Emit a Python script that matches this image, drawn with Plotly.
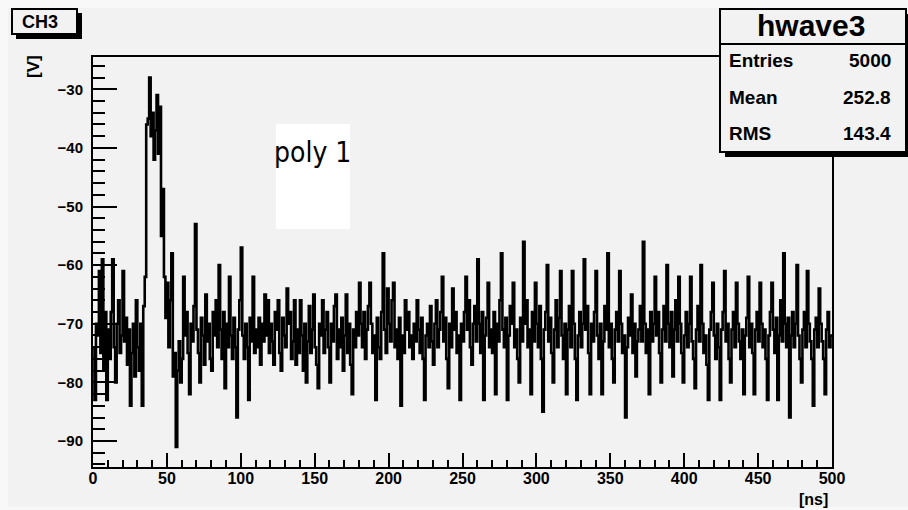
import numpy as np
import plotly.graph_objects as go

# ---------------- data (one value per 1 ns bin, 0..500 ns) ----------------
voltage = [
    -74, -83, -70, -72, -61, -75, -59, -78, -68, -83,
    -71, -76, -68, -59, -74, -80, -70, -66, -75, -72,
    -61, -73, -69, -77, -71, -84, -75, -70, -79, -66,
    -74, -78, -70, -84, -67, -62, -36, -35, -28, -38,
    -34, -42, -37, -31, -41, -33, -55, -47, -62, -69,
    -63, -74, -66, -58, -79, -75, -91, -78, -73, -80,
    -76, -62, -72, -68, -75, -82, -70, -73, -67, -53,
    -71, -75, -80, -69, -72, -77, -65, -73, -70, -76,
    -78, -68, -72, -66, -74, -60, -71, -76, -68, -81,
    -70, -74, -62, -72, -76, -69, -74, -86, -71, -66,
    -57, -72, -76, -70, -74, -83, -69, -73, -62, -75,
    -71, -74, -69, -77, -70, -73, -65, -72, -66, -75,
    -70, -73, -77, -68, -71, -66, -75, -78, -69, -72,
    -74, -64, -70, -68, -76, -73, -66, -77, -71, -75,
    -66, -72, -78, -70, -80, -73, -67, -75, -71, -65,
    -74, -77, -81, -70, -72, -66, -75, -71, -68, -74,
    -80, -70, -73, -67, -65, -76, -71, -74, -69, -78,
    -72, -65, -75, -70, -77, -82, -71, -74, -68, -72,
    -63, -70, -74, -68, -76, -71, -67, -63, -70, -75,
    -72, -83, -69, -74, -76, -68, -58, -71, -75, -64,
    -70, -73, -66, -63, -74, -71, -76, -69, -84, -72,
    -75, -66, -71, -68, -74, -72, -76, -70, -73, -66,
    -71, -75, -69, -76, -83, -72, -70, -74, -67, -73,
    -77, -70, -66, -74, -71, -68, -62, -73, -69, -76,
    -81, -70, -74, -64, -71, -68, -75, -72, -83, -70,
    -73, -68, -62, -71, -66, -74, -77, -70, -67, -73,
    -59, -70, -75, -68, -83, -72, -69, -63, -74, -71,
    -75, -68, -82, -70, -73, -66, -58, -71, -74, -69,
    -83, -72, -67, -70, -63, -74, -71, -76, -80, -69,
    -73, -56, -70, -66, -74, -71, -82, -68, -73, -63,
    -70, -74, -67, -76, -85, -71, -68, -60, -73, -69,
    -75, -80, -71, -66, -74, -69, -61, -72, -76, -70,
    -82, -71, -67, -74, -61, -70, -76, -83, -72, -68,
    -74, -70, -59, -71, -67, -75, -82, -70, -73, -68,
    -61, -72, -76, -70, -82, -73, -67, -71, -58, -74,
    -70, -76, -80, -71, -68, -73, -61, -70, -75, -72,
    -86, -74, -69, -72, -65, -75, -70, -79, -73, -71,
    -67, -73, -56, -70, -75, -71, -82, -68, -73, -70,
    -62, -72, -68, -75, -80, -71, -67, -73, -60, -70,
    -74, -68, -79, -71, -66, -73, -62, -70, -75, -80,
    -72, -68, -74, -70, -62, -73, -76, -81, -71, -67,
    -73, -60, -70, -75, -72, -77, -83, -71, -68, -63,
    -72, -76, -70, -74, -83, -71, -68, -61, -73, -70,
    -76, -80, -71, -68, -74, -63, -70, -73, -76, -71,
    -82, -72, -69, -62, -74, -70, -75, -82, -71, -68,
    -73, -63, -70, -74, -71, -76, -83, -72, -68, -63,
    -71, -75, -69, -83, -72, -66, -73, -58, -70, -74,
    -69, -86, -72, -68, -74, -70, -60, -72, -76, -80,
    -71, -68, -74, -61, -70, -73, -76, -84, -71, -69,
    -74, -64, -70, -73, -76, -82, -71, -68, -74, -72,
]
x_tick_values = [0, 50, 100, 150, 200, 250, 300, 350, 400, 450, 500]
y_tick_values = [-90, -80, -70, -60, -50, -40, -30]
title_text = "CH3"
hist_name = "hwave3"
stats_labels = ["Entries", "Mean", "RMS"]
stats_values = ["5000", "252.8", "143.4"]
x_unit = "[ns]"
y_unit = "[V]"
note_text = "poly 1"

# ---------------- layout geometry (pixels) ----------------
W, H = 908, 510
L, R, T, B = 93, 832, 57, 467


def px(x):
    return (x - L) / (R - L)


def py(y):
    return (B - y) / (B - T)


edges = np.arange(len(voltage) + 1)
yvals = voltage + [voltage[-1]]

fig = go.Figure()
fig.add_trace(go.Scatter(
    x=edges, y=yvals, mode="lines",
    line=dict(color="black", width=2.6, shape="hv"),
    hoverinfo="skip", showlegend=False,
))

bold = "Liberation Sans, Arial, Helvetica, sans-serif"
tick_font_x = dict(family=bold, size=16, color="black", weight="bold")
tick_font_y = dict(family=bold, size=15, color="black", weight="bold")

fig.update_xaxes(
    range=[0, 500], tickvals=x_tick_values, ticks="inside", ticklen=14,
    tickwidth=2, tickcolor="black", showline=True, linecolor="black",
    linewidth=2, mirror=True, showgrid=False, zeroline=False,
    tickfont=tick_font_x, ticklabelstandoff=-4,
    minor=dict(dtick=10, ticks="inside", ticklen=7, tickwidth=2,
               tickcolor="black", showgrid=False),
)
fig.update_yaxes(
    range=[-94.44, -24.49], tickvals=y_tick_values, ticks="inside",
    ticklen=24, tickwidth=2, tickcolor="black", showline=True,
    linecolor="black", linewidth=2, mirror=True, showgrid=False,
    zeroline=False, tickfont=tick_font_y, ticklabelstandoff=5,
    minor=dict(dtick=2, ticks="inside", ticklen=12, tickwidth=2,
               tickcolor="black", showgrid=False),
)

shapes = []
# canvas
shapes.append(dict(type="rect", xref="paper", yref="paper", layer="below",
                   x0=px(8), x1=px(908), y0=py(507), y1=py(8),
                   line=dict(width=0), fillcolor="#f2f2f2"))
# white box behind "poly 1"
shapes.append(dict(type="rect", xref="paper", yref="paper", layer="above",
                   x0=px(276), x1=px(350), y0=py(229), y1=py(124),
                   line=dict(width=0), fillcolor="white"))
# title box shadow + box
shapes.append(dict(type="rect", xref="paper", yref="paper", layer="above",
                   x0=px(16), x1=px(82), y0=py(39), y1=py(13),
                   line=dict(width=0), fillcolor="black"))
shapes.append(dict(type="rect", xref="paper", yref="paper", layer="above",
                   x0=px(12), x1=px(77), y0=py(34), y1=py(9),
                   line=dict(width=2, color="black"), fillcolor="#f2f2f2"))
# stats box shadow + box
shapes.append(dict(type="rect", xref="paper", yref="paper", layer="above",
                   x0=px(725), x1=px(911), y0=py(157), y1=py(14),
                   line=dict(width=0), fillcolor="black"))
shapes.append(dict(type="rect", xref="paper", yref="paper", layer="above",
                   x0=px(720), x1=px(906), y0=py(152), y1=py(9),
                   line=dict(width=2, color="black"), fillcolor="#f2f2f2"))
shapes.append(dict(type="line", xref="paper", yref="paper", layer="above",
                   x0=px(720), x1=px(906), y0=py(44), y1=py(44),
                   line=dict(width=2, color="black")))

ann = []
ann.append(dict(text=title_text, x=px(40), y=py(22), xref="paper", yref="paper",
                showarrow=False, xanchor="center", yanchor="middle",
                font=dict(family=bold, size=18, color="black", weight="bold")))
ann.append(dict(text=hist_name, x=px(811), y=py(26), xref="paper", yref="paper",
                showarrow=False, xanchor="center", yanchor="middle",
                font=dict(family=bold, size=30, color="black", weight="bold")))
rows_y = [60, 97, 133]
for lab, val, yy in zip(stats_labels, stats_values, rows_y):
    ann.append(dict(text=lab, x=px(727), y=py(yy), xref="paper", yref="paper",
                    showarrow=False, xanchor="left", yanchor="middle",
                    font=dict(family=bold, size=19, color="black", weight="bold")))
    ann.append(dict(text=val, x=px(893), y=py(yy), xref="paper", yref="paper",
                    showarrow=False, xanchor="right", yanchor="middle",
                    font=dict(family=bold, size=19, color="black", weight="bold")))
ann.append(dict(text=x_unit, x=px(830), y=py(499), xref="paper", yref="paper",
                showarrow=False, xanchor="right", yanchor="middle",
                font=dict(family=bold, size=16, color="black", weight="bold")))
ann.append(dict(text=y_unit, x=px(33), y=py(67), xref="paper", yref="paper",
                showarrow=False, xanchor="center", yanchor="middle", textangle=-90,
                font=dict(family=bold, size=17, color="black", weight="bold")))
ann.append(dict(text=note_text, x=px(312), y=py(152), xref="paper", yref="paper",
                showarrow=False, xanchor="center", yanchor="middle",
                font=dict(family="DejaVu Sans Condensed, DejaVu Sans, sans-serif",
                          size=28, color="black")))

fig.update_layout(
    width=W, height=H, autosize=False,
    margin=dict(l=L, r=W - R, t=T, b=H - B, pad=0),
    paper_bgcolor="#f8f8f8", plot_bgcolor="#f2f2f2",
    shapes=shapes, annotations=ann, showlegend=False,
)

fig.write_html("out.html")
